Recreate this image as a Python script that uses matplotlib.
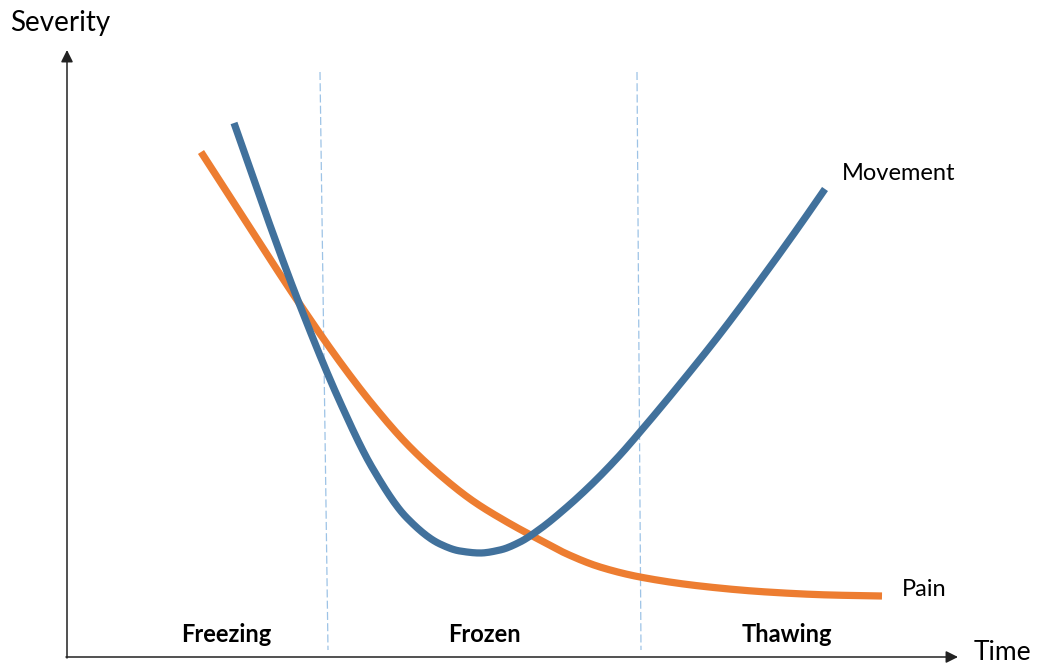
import matplotlib
matplotlib.use("Agg")
import matplotlib.pyplot as plt
import numpy as np

# coordinates in a 1039 x 664 canvas, y measured upward
movement_x = [234, 267, 297, 340, 373, 407, 440, 460, 480, 500, 520, 540, 567, 593, 620, 640, 680, 720, 767, 800, 825]
movement_y = [541, 447, 366, 262, 195, 146, 120, 113, 111, 114, 122, 135, 157, 181, 209, 232, 280, 330, 393, 439, 475]

pain_x = [201, 250, 297, 340, 373, 407, 440, 473, 507, 540, 567, 600, 640, 700, 767, 830, 882]
pain_y = [512, 436, 364, 302, 259, 220, 189, 163, 142, 124, 110, 97, 87, 78, 72, 69, 68]

phase_labels = ["Freezing", "Frozen", "Thawing"]
phase_x = [226, 484, 787]
divider_top = [(320, 592), (637, 592)]
divider_bottom = [(328, 14), (641, 14)]


def pchip(xs, ys, n=400):
    # shape-preserving cubic through the read-off points
    x = np.asarray(xs, float); y = np.asarray(ys, float)
    h = np.diff(x); d = np.diff(y) / h
    m = np.zeros_like(y)
    m[0], m[-1] = d[0], d[-1]
    for i in range(1, len(x) - 1):
        if d[i-1] * d[i] > 0:
            w1 = 2*h[i] + h[i-1]; w2 = h[i] + 2*h[i-1]
            m[i] = (w1 + w2) / (w1/d[i-1] + w2/d[i])
    xx = np.linspace(x[0], x[-1], n)
    k = np.clip(np.searchsorted(x, xx) - 1, 0, len(x) - 2)
    t = (xx - x[k]) / h[k]
    h00 = 2*t**3 - 3*t**2 + 1; h10 = t**3 - 2*t**2 + t
    h01 = -2*t**3 + 3*t**2; h11 = t**3 - t**2
    yy = h00*y[k] + h10*h[k]*m[k] + h01*y[k+1] + h11*h[k]*m[k+1]
    return xx, yy


fig = plt.figure(figsize=(10.39, 6.64), dpi=100)
ax = fig.add_axes([0, 0, 1, 1])
ax.set_xlim(0, 1039)
ax.set_ylim(0, 664)
ax.axis("off")

# axes with arrow heads
ax.annotate("", xy=(67, 614), xytext=(67, 6),
            arrowprops=dict(arrowstyle="-|>", color="#222222", lw=1.1, mutation_scale=18, shrinkA=0, shrinkB=0))
ax.annotate("", xy=(958, 7), xytext=(66, 7),
            arrowprops=dict(arrowstyle="-|>", color="#222222", lw=1.1, mutation_scale=18, shrinkA=0, shrinkB=0))

for (x0, y0), (x1, y1) in zip(divider_top, divider_bottom):
    ax.plot([x0, x1], [y0, y1], color="#9DC3E6", lw=0.9, ls=(0, (6.4, 2.6)))

mx, my = pchip(movement_x, movement_y)
px, py = pchip(pain_x, pain_y)
ax.plot(px, py, color="#ED7D31", lw=5.2, solid_capstyle="butt")
ax.plot(mx, my, color="#41719C", lw=5.2, solid_capstyle="butt")

font = "Lato"
ax.text(10, 641, "Severity", fontsize=20, family=font, ha="left", va="center")
ax.text(974, 12, "Time", fontsize=19, family=font, ha="left", va="center")
ax.text(842, 490, "Movement", fontsize=17, family=font, ha="left", va="center")
ax.text(902, 74, "Pain", fontsize=17, family=font, ha="left", va="center")
for lab, x in zip(phase_labels, phase_x):
    ax.text(x, 29, lab, fontsize=17, family=font, fontweight="bold", ha="center", va="center")

fig.savefig("out.png", dpi=100, facecolor="white")
